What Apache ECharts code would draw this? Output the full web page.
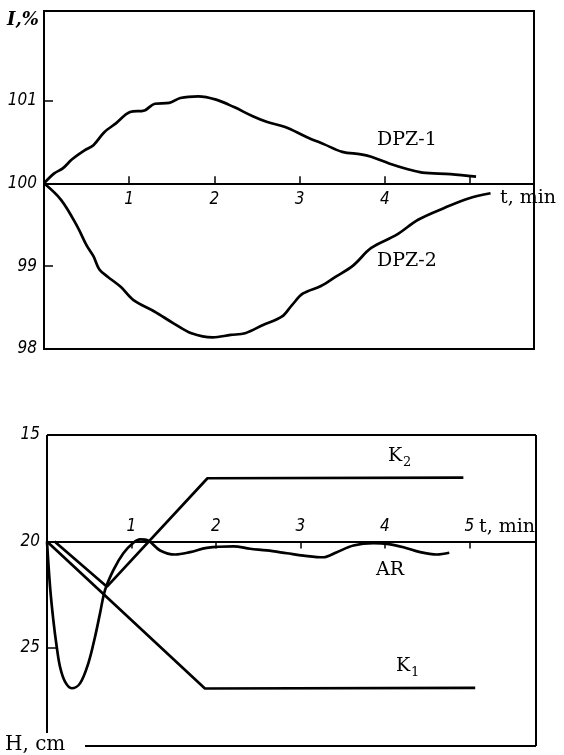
<!DOCTYPE html>
<html>
<head>
<meta charset="utf-8">
<script src="https://cdn.jsdelivr.net/npm/echarts@6/dist/echarts.min.js"></script>
<style>
  html, body { margin: 0; padding: 0; background: #fff; }
  #chart { width: 564px; height: 755px; }
</style>
</head>
<body>
<div id="chart"></div>
<script>
// Upper panel: relative intensity I (%) against time t (min)
const dpz1T = [0, 0.12, 0.22, 0.33, 0.48, 0.58, 0.71, 0.84, 1.01, 1.18, 1.30, 1.47, 1.60, 1.81, 2.02, 2.23, 2.45, 2.62, 2.83, 3.08, 3.29, 3.50, 3.72, 3.84, 4.05, 4.27, 4.44, 4.77, 5.07];
const dpz1I = [100, 100.12, 100.18, 100.29, 100.40, 100.46, 100.62, 100.72, 100.86, 100.88, 100.96, 100.97, 101.03, 101.05, 101.01, 100.92, 100.81, 100.74, 100.68, 100.56, 100.47, 100.38, 100.35, 100.32, 100.24, 100.17, 100.13, 100.11, 100.08];
const dpz2T = [0, 0.20, 0.39, 0.50, 0.58, 0.65, 0.75, 0.90, 1.05, 1.30, 1.52, 1.73, 1.98, 2.19, 2.36, 2.57, 2.79, 2.91, 3.04, 3.25, 3.42, 3.63, 3.84, 4.14, 4.39, 4.69, 4.99, 5.24];
const dpz2I = [100, 99.80, 99.48, 99.25, 99.12, 98.96, 98.87, 98.75, 98.59, 98.45, 98.31, 98.19, 98.14, 98.17, 98.19, 98.29, 98.39, 98.53, 98.67, 98.76, 98.87, 99.01, 99.22, 99.38, 99.56, 99.70, 99.82, 99.88];
const upperYTicks = [98, 99, 100, 101];
const upperXLabels = [1, 2, 3, 4];

// Lower panel: level H (cm) against time t (min), axis pointing down
const k1T = [0, 1.87, 5.07];
const k1H = [20, 26.9, 26.87];
const k2T = [0.09, 0.71, 1.90, 4.93];
const k2H = [20, 22.12, 17.03, 17.0];
const arT = [0, 0.036, 0.075, 0.115, 0.154, 0.213, 0.293, 0.391, 0.489, 0.569, 0.628, 0.687, 0.786, 0.904, 1.023, 1.102, 1.20, 1.339, 1.517, 1.694, 1.892, 2.207, 2.405, 2.603, 2.840, 3.037, 3.274, 3.432, 3.629, 3.866, 4.025, 4.221, 4.419, 4.617, 4.763];
const arH = [20, 22.12, 23.69, 24.94, 25.88, 26.58, 26.89, 26.66, 25.72, 24.47, 23.37, 22.28, 21.34, 20.55, 20.06, 19.90, 19.96, 20.42, 20.61, 20.50, 20.30, 20.23, 20.34, 20.42, 20.55, 20.66, 20.74, 20.50, 20.19, 20.08, 20.11, 20.27, 20.50, 20.61, 20.53];
const lowerYTicks = [15, 20, 25];
const lowerXLabels = [1, 2, 3, 4, 5];

// panel layout (pixels) and axis extents
const UP = { left: 44, top: 11, width: 490, height: 338, xMax: 5.75, yMin: 98, yMax: 102.08, base: 100 };
const LO = { left: 47, top: 435, width: 489, height: 311, xMax: 5.79, yMin: 15, yMax: 29.6, base: 20 };

const pairs = (xs, ys) => xs.map((x, i) => [x, ys[i]]);

const tickFont = {
  fontFamily: "'Liberation Sans Narrow', 'DejaVu Sans Condensed', sans-serif",
  fontStyle: 'italic',
  fontSize: 17,
  color: '#000'
};
const serif = '"DejaVu Serif", "Liberation Serif", serif';

// the baseline axis of each panel sits in its own grid whose edge lies on the base value
const upBaseH = UP.height * (UP.yMax - UP.base) / (UP.yMax - UP.yMin);
const loBaseOff = LO.height * (LO.base - LO.yMin) / (LO.yMax - LO.yMin);

const hidden = { show: false };
const curve = (name, data, xi, yi, smooth) => ({
  name, type: 'line', data, xAxisIndex: xi, yAxisIndex: yi,
  symbol: 'none', smooth: smooth, smoothMonotone: 'none',
  lineStyle: { color: '#000', width: 2.7 }, z: 5, silent: true
});

const loX0 = LO.left, loX1 = LO.left + LO.width, loY0 = LO.top, loY1 = LO.top + LO.height;
const frameLine = (x1, y1, x2, y2) => ({
  type: 'line', shape: { x1, y1, x2, y2 }, style: { stroke: '#000', lineWidth: 2 }, silent: true
});
const label = (text, x, y, font) => ({
  type: 'text', x, y, silent: true,
  style: { text, font, fill: '#000', align: 'left', verticalAlign: 'middle' }
});

const option = {
  backgroundColor: '#fff',
  animation: false,
  grid: [
    { left: UP.left, top: UP.top, width: UP.width, height: UP.height, show: true, borderColor: '#000', borderWidth: 2, backgroundColor: 'transparent' },
    { left: UP.left, top: UP.top, width: UP.width, height: upBaseH },
    { left: LO.left, top: LO.top, width: LO.width, height: LO.height },
    { left: LO.left, top: LO.top + loBaseOff, width: LO.width, height: LO.height - loBaseOff }
  ],
  xAxis: [
    { gridIndex: 0, type: 'value', min: 0, max: UP.xMax, axisLine: hidden, axisTick: hidden, axisLabel: hidden, splitLine: hidden },
    {
      gridIndex: 1, type: 'value', min: 0, max: UP.xMax, interval: 1, position: 'bottom',
      axisLine: { show: true, onZero: false, lineStyle: { color: '#000', width: 2 } },
      axisTick: { show: true, inside: true, length: 7, lineStyle: { color: '#000', width: 1.5 } },
      axisLabel: Object.assign({ show: true, margin: 8, formatter: v => upperXLabels.includes(v) ? String(v) : '' }, tickFont),
      splitLine: hidden
    },
    { gridIndex: 2, type: 'value', min: 0, max: LO.xMax, axisLine: hidden, axisTick: hidden, axisLabel: hidden, splitLine: hidden },
    {
      gridIndex: 3, type: 'value', min: 0, max: LO.xMax, interval: 1, position: 'top',
      axisLine: { show: true, onZero: false, lineStyle: { color: '#000', width: 2 } },
      axisTick: { show: true, inside: true, length: 7, lineStyle: { color: '#000', width: 1.5 } },
      axisLabel: Object.assign({ show: true, margin: 6, formatter: v => lowerXLabels.includes(v) ? String(v) : '' }, tickFont),
      splitLine: hidden
    }
  ],
  yAxis: [
    {
      gridIndex: 0, type: 'value', min: UP.yMin, max: UP.yMax,
      axisLine: hidden,
      axisTick: { show: true, inside: true, length: 9, customValues: upperYTicks, lineStyle: { color: '#000', width: 1.5 } },
      axisLabel: Object.assign({ show: true, margin: 7, customValues: upperYTicks, padding: [3, 0, 0, 0] }, tickFont),
      splitLine: hidden
    },
    { gridIndex: 1, type: 'value', min: UP.base, max: UP.yMax, show: false },
    {
      gridIndex: 2, type: 'value', min: LO.yMin, max: LO.yMax, inverse: true,
      axisLine: hidden,
      axisTick: { show: true, inside: true, length: 9, customValues: lowerYTicks, lineStyle: { color: '#000', width: 1.5 } },
      axisLabel: Object.assign({ show: true, margin: 7, customValues: lowerYTicks, padding: [3, 0, 0, 0] }, tickFont),
      splitLine: hidden
    },
    { gridIndex: 3, type: 'value', min: LO.base, max: LO.yMax, inverse: true, show: false }
  ],
  series: [
    curve('DPZ-1', pairs(dpz1T, dpz1I), 0, 0, 0.35),
    curve('DPZ-2', pairs(dpz2T, dpz2I), 0, 0, 0.35),
    curve('K1', pairs(k1T, k1H), 2, 2, false),
    curve('K2', pairs(k2T, k2H), 2, 2, false),
    curve('AR', pairs(arT, arH), 2, 2, 0.35)
  ],
  graphic: [
    // lower panel frame
    frameLine(loX0, loY0, loX1, loY0),
    frameLine(loX1, loY0, loX1, loY1),
    frameLine(85, loY1, loX1, loY1),
    frameLine(loX0, loY0, loX0, 733),
    // axis names and curve captions
    label('I,%', 7, 20, 'italic bold 18px ' + serif),
    label('t, min', 500, 198, '19px ' + serif),
    label('DPZ-1', 377, 140, '19px ' + serif),
    label('DPZ-2', 377, 261, '19px ' + serif),
    label('K', 388, 456, '19px ' + serif),
    label('2', 403, 463, '13px ' + serif),
    label('AR', 376, 570, '19px ' + serif),
    label('K', 396, 666, '19px ' + serif),
    label('1', 411, 673, '13px ' + serif),
    label('t, min', 479, 527, '19px ' + serif),
    label('H, cm', 5, 745, '20px ' + serif)
  ]
};

const chart = echarts.init(document.getElementById('chart'), null, { renderer: 'canvas' });
chart.setOption(option);
</script>
</body>
</html>
